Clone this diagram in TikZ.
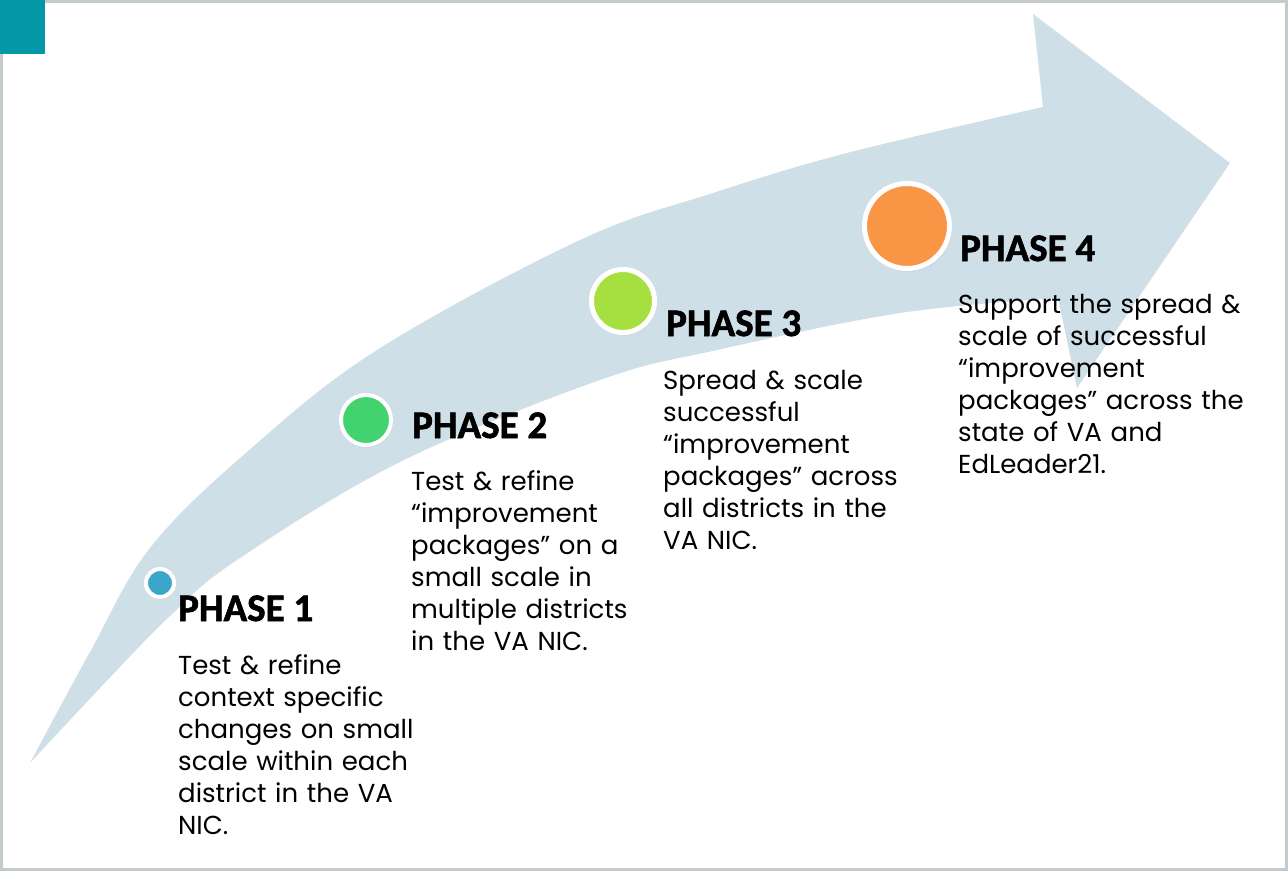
\documentclass[tikz,border=0pt]{standalone}
\usepackage{fontspec}
\setmainfont{Poppins}
\newfontfamily\headfont{Carlito}[BoldFeatures={FakeBold=1.6}]
\usetikzlibrary{shadows}

\definecolor{band}{RGB}{206,223,232}
\definecolor{corner}{RGB}{4,151,168}
\definecolor{frame}{RGB}{196,203,207}
\definecolor{ph1}{RGB}{59,166,203}
\definecolor{ph2}{RGB}{66,210,110}
\definecolor{ph3}{RGB}{166,224,64}
\definecolor{ph4}{RGB}{248,150,70}

\begin{document}
\begin{tikzpicture}[
	x=1pt, y=-1pt,
	dot/.style = {circle, draw=white, line width=4pt, inner sep=0pt,
		circular drop shadow={shadow xshift=0.6pt, shadow yshift=-1.2pt, shadow scale=1.06, opacity=0.35}},
	head/.style = {anchor=base west, inner sep=0pt, font=\headfont\bfseries\fontsize{39}{44}\selectfont},
	body/.style = {anchor=base west, inner sep=0pt, text width=330pt, align=left,
		font=\fontsize{26}{32}\selectfont}
	]
	
	\useasboundingbox (0,0) rectangle (1288,871);
	
	% ===== ===== ===== ===== =====
	
	% Frame
	\fill[white] (0,0) rectangle (1288,871);
	\draw[frame, line width=3pt] (1.5,1.5) rectangle (1286.5,869.5);
	\fill[corner] (0,0) rectangle (45,54);
	
	% Arrow
	\fill[band] (30,763)
		-- plot[smooth, tension=0.6] coordinates {(30,763) (90,652) (150,548) (247,452) (377,350) (580,240) (713,193) (847,153) (1043,107)}
		-- (1033,14) -- (1230,163) -- (1077,388) -- (1058,298)
		-- plot[smooth, tension=0.6] coordinates {(1058,298) (900,313) (717,350) (600,380) (400,462) (237,560) (170,616) (100,688) (30,763)}
		-- cycle;
	
	% ===== ===== ===== ===== =====
	
	% Nodes
	\node[dot, fill=ph1, minimum size=28pt]		(c1)	at	(160,583)	{};
	\node[dot, fill=ph2, minimum size=50pt]		(c2)	at	(366,420)	{};
	\node[dot, fill=ph3, minimum size=63pt, line width=5pt]	(c3)	at	(623,301)	{};
	\node[dot, fill=ph4, minimum size=85pt, line width=5pt]	(c4)	at	(907,226)	{};
	
	\node[head]	(h1)	at	(178,621)	{PHASE 1};
	\node[head]	(h2)	at	(412,438)	{PHASE 2};
	\node[head]	(h3)	at	(666,336)	{PHASE 3};
	\node[head]	(h4)	at	(960,261)	{PHASE 4};
	
	\node[body]	(t1)	at	(178,674)	{Test \& refine\\ context specific\\ changes on small\\ scale within each\\ district in the VA\\ NIC.};
	\node[body]	(t2)	at	(411,490)	{Test \& refine\\ “improvement\\ packages” on a\\ small scale in\\ multiple districts\\ in the VA NIC.};
	\node[body]	(t3)	at	(663,389)	{Spread \& scale\\ successful\\ “improvement\\ packages” across\\ all districts in the\\ VA NIC.};
	\node[body]	(t4)	at	(958,313)	{Support the spread \&\\ scale of successful\\ “improvement\\ packages” across the\\ state of VA and\\ EdLeader21.};
	
\end{tikzpicture}
\end{document}
